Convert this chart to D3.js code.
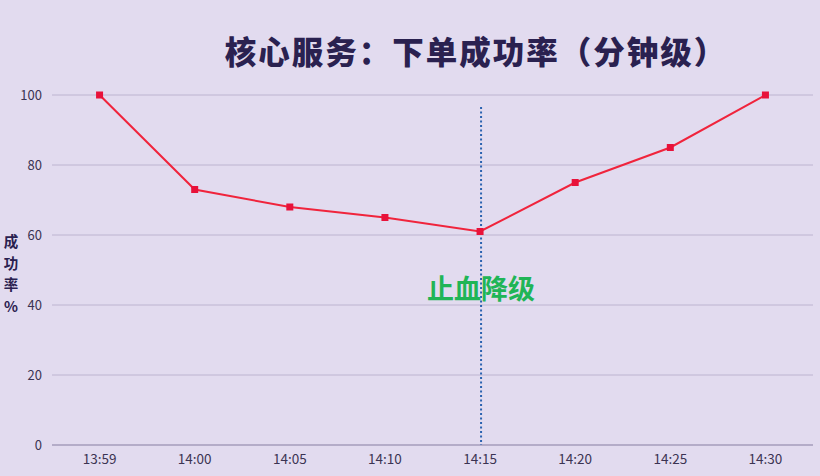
<!DOCTYPE html>
<html>
<head>
<meta charset="utf-8">
<script src="https://cdn.jsdelivr.net/npm/d3@7"></script>
<style>
  html, body { margin: 0; padding: 0; background: #e2dbef; }
  text { font-family: "Noto Sans CJK SC", "Noto Sans", sans-serif; }
</style>
</head>
<body>
<div id="chart"></div>
<script>
const times = ["13:59", "14:00", "14:05", "14:10", "14:15", "14:20", "14:25", "14:30"];
const successRate = [100, 73, 68, 65, 61, 75, 85, 100];
const yTicks = [0, 20, 40, 60, 80, 100];
const markerTime = "14:15";
const markerLabel = "止血降级";
const title = "核心服务：下单成功率（分钟级）";
const yLabel = ["成", "功", "率", "%"];

const w = 820;
const h = 476;

const svg = d3
  .select("#chart")
  .append("svg")
  .attr("width", w)
  .attr("height", h);

svg.append("rect").attr("width", w).attr("height", h).attr("fill", "#e2dbef");

const xScale = d3.scaleBand().domain(times).range([52, 813]);
const yScale = d3.scaleLinear().domain([0, 100]).range([445, 95]);
const xPos = (d) => xScale(d) + xScale.bandwidth() / 2;

// grid lines
svg
  .append("g")
  .selectAll("line")
  .data(yTicks)
  .enter()
  .append("line")
  .attr("x1", 52)
  .attr("x2", 813)
  .attr("y1", (d) => yScale(d))
  .attr("y2", (d) => yScale(d))
  .attr("stroke", (d) => (d === 0 ? "#a59cbb" : "#bdb4d0"))
  .attr("stroke-width", (d) => (d === 0 ? 1.5 : 1));

const yAxis = svg
  .append("g")
  .attr("transform", "translate(52,0)")
  .call(d3.axisLeft(yScale).tickValues(yTicks).tickSize(0).tickPadding(10));
yAxis.select(".domain").remove();
yAxis.selectAll("text").attr("fill", "#3b3352").attr("font-size", 13).attr("font-family", "Liberation Sans, sans-serif");

const xAxis = svg
  .append("g")
  .attr("transform", "translate(0,445)")
  .call(d3.axisBottom(xScale).tickSize(0).tickPadding(9));
xAxis.select(".domain").remove();
xAxis.selectAll("text").attr("fill", "#3b3352").attr("font-size", 13.5).attr("font-family", "Liberation Sans, sans-serif");

// marker line
svg
  .append("line")
  .attr("x1", xPos(markerTime) + 1)
  .attr("x2", xPos(markerTime) + 1)
  .attr("y1", 107)
  .attr("y2", 445)
  .attr("stroke", "#2a62b0")
  .attr("stroke-width", 2)
  .attr("stroke-dasharray", "2,2.5");

// data line
const line = d3
  .line()
  .x((d, i) => xPos(times[i]))
  .y((d) => yScale(d));

svg
  .append("path")
  .datum(successRate)
  .attr("d", line)
  .attr("fill", "none")
  .attr("stroke", "#f0243c")
  .attr("stroke-width", 2);

svg
  .selectAll(".pt")
  .data(successRate)
  .enter()
  .append("rect")
  .attr("class", "pt")
  .attr("x", (d, i) => xPos(times[i]) - 3.5)
  .attr("y", (d) => yScale(d) - 3.5)
  .attr("width", 7)
  .attr("height", 7)
  .attr("fill", "#e8123a");

// marker label
svg
  .append("text")
  .attr("x", xPos(markerTime) + 1)
  .attr("y", 299)
  .attr("text-anchor", "middle")
  .attr("font-size", 27)
  .attr("font-weight", "bold")
  .attr("fill", "#20b556")
  .text(markerLabel);

// title
svg
  .append("text")
  .attr("x", 476)
  .attr("y", 64)
  .attr("text-anchor", "middle")
  .attr("font-size", 31.5)
  .attr("font-weight", 900)
  .attr("letter-spacing", 2)
  .attr("fill", "#2a2150")
  .text(title);

// y label, stacked
svg
  .append("g")
  .selectAll("text")
  .data(yLabel)
  .enter()
  .append("text")
  .attr("x", 11)
  .attr("y", (d, i) => 247 + i * 21.5)
  .attr("text-anchor", "middle")
  .attr("font-size", 14.5)
  .attr("font-weight", "bold")
  .attr("fill", "#2a2150")
  .text((d) => d);
</script>
</body>
</html>
